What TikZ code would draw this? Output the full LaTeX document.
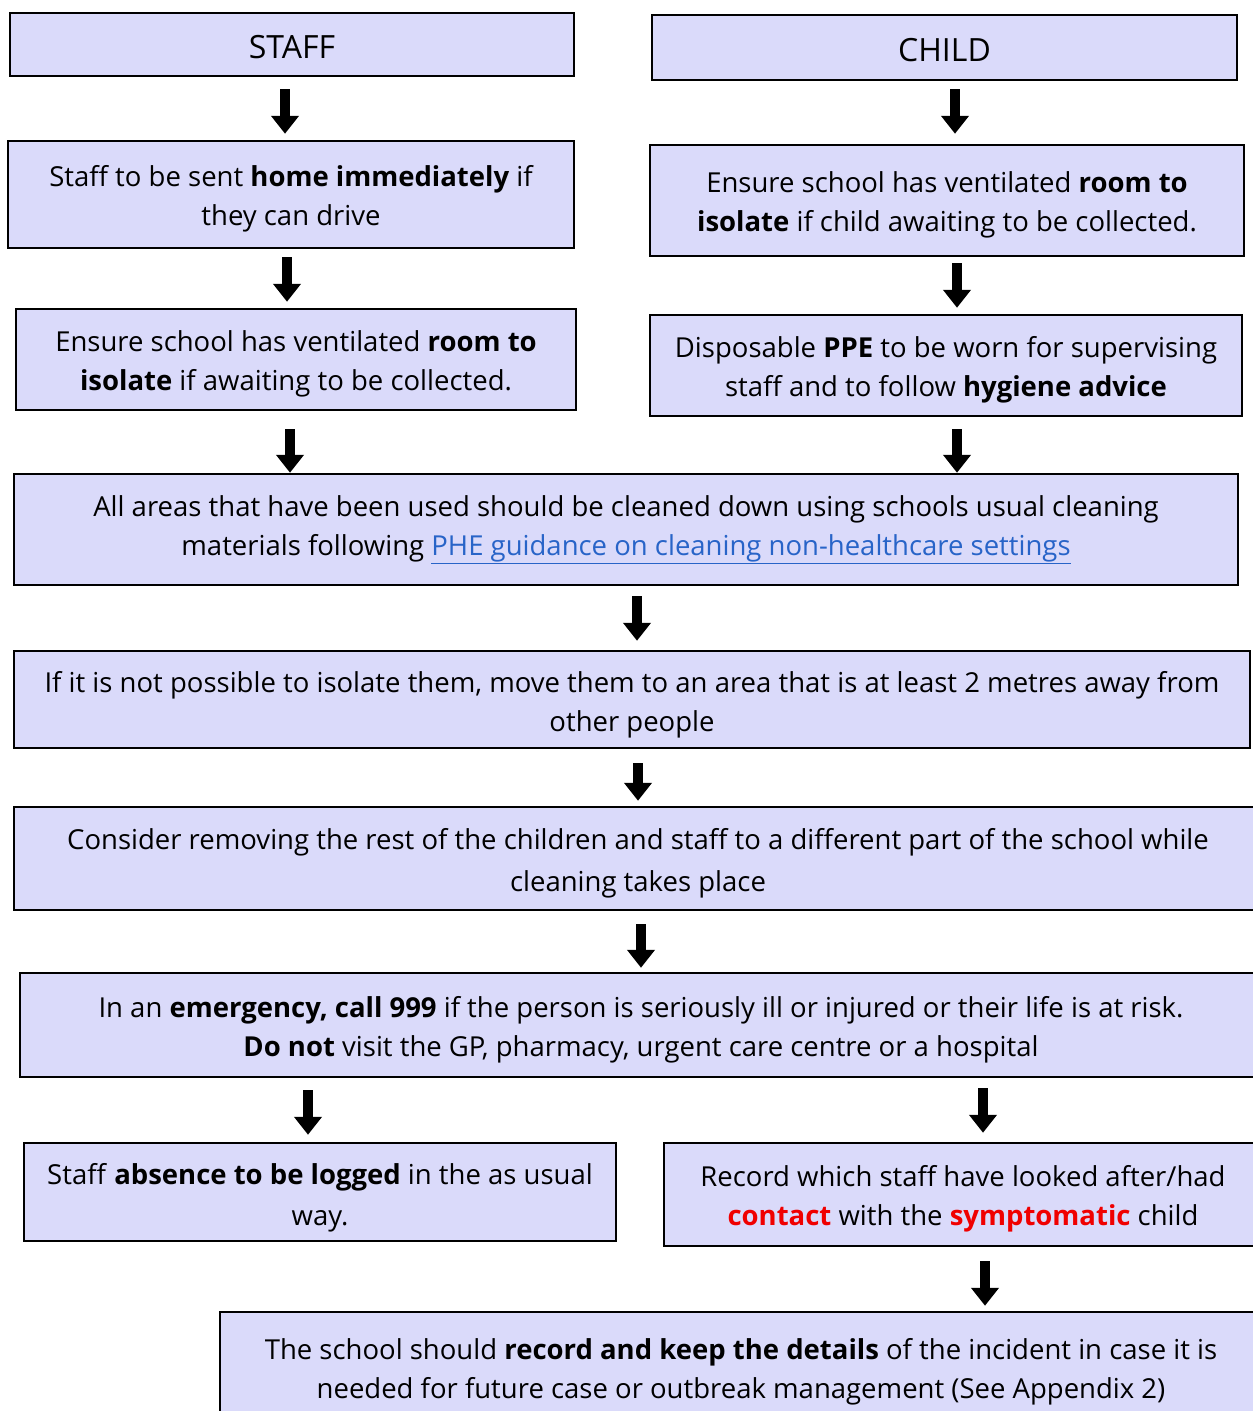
\documentclass[tikz,border=0pt]{standalone}
\usepackage{fontspec}
\setmainfont{Open Sans}
\usetikzlibrary{arrows.meta}
\definecolor{boxfill}{RGB}{218,218,250}
\definecolor{linkblue}{RGB}{40,100,200}
\definecolor{hotred}{RGB}{240,0,0}
\newcommand\lowr[1][30pt]{\rule{0pt}{#1}}
\tikzset{
  box/.style={draw=black, line width=2.5pt, fill=boxfill, inner sep=0pt, align=center,
    font=\fontsize{27.5}{39}\selectfont},
  headbox/.style={box, font=\fontsize{32}{36}\selectfont},
  bigarr/.style={draw=black, line width=10pt, -{Triangle[width=27pt,length=18pt]}}
}
\begin{document}
\begin{tikzpicture}[x=1pt,y=-1pt]
\clip (0,0) rectangle (1253,1411);
\fill[white] (0,0) rectangle (1253,1411);
% boxes
\node[headbox, minimum width=564pt, minimum height=63pt] (staff) at (292,44.5) {\lowr[29pt]STAFF};
\node[headbox, minimum width=585pt, minimum height=65pt] (child) at (944.5,47.5) {\lowr[29pt]CHILD};
\node[box, minimum width=566pt, minimum height=107pt] (home) at (291,194.5)
  {\lowr Staff to be sent \textbf{home immediately} if\\ they can drive};
\node[box, minimum width=594pt, minimum height=111pt] (cvent) at (947,200.5)
  {\lowr Ensure school has ventilated \textbf{room to}\\ \textbf{isolate} if child awaiting to be collected.};
\node[box, minimum width=560pt, minimum height=101pt] (svent) at (296,359.5)
  {\lowr Ensure school has ventilated \textbf{room to}\\ \textbf{isolate} if awaiting to be collected.};
\node[box, minimum width=592pt, minimum height=101pt] (ppe) at (946,365.5)
  {\lowr Disposable \textbf{PPE} to be worn for supervising\\ staff and to follow \textbf{hygiene advice}};
\node[box, minimum width=1224pt, minimum height=111pt] (all) at (626,529.5)
  {All areas that have been used should be cleaned down using schools usual cleaning\\
   materials following {\color{linkblue}\underline{PHE guidance on cleaning non-healthcare settings}}};
\node[box, minimum width=1236pt, minimum height=97pt] (notpos) at (632,699.5)
  {\lowr[31.5pt]If it is not possible to isolate them, move them to an area that is at least 2 metres away from\\ other people};
\node[box, minimum width=1248pt, minimum height=103pt, font=\fontsize{27.5}{42}\selectfont] (consider) at (638,858.5)
  {\lowr Consider removing the rest of the children and staff to a different part of the school while\\ cleaning takes place};
\node[box, minimum width=1242pt, minimum height=104pt] (emerg) at (641,1025)
  {\lowr[31.5pt]In an \textbf{emergency, call 999} if the person is seriously ill or injured or their life is at risk.\\
   \textbf{Do not} visit the GP, pharmacy, urgent care centre or a hospital};
\node[box, minimum width=592pt, minimum height=98pt, font=\fontsize{27.5}{41}\selectfont] (absence) at (320,1192)
  {\lowr[33.5pt]Staff \textbf{absence to be logged} in the as usual\\ way.};
\node[box, minimum width=598pt, minimum height=103pt] (record) at (963,1194.5)
  {\lowr Record which staff have looked after/had\\
   {\color{hotred}\textbf{contact}} with the {\color{hotred}\textbf{symptomatic}} child};
\node[box, minimum width=1042pt, minimum height=110pt] (school) at (741,1367)
  {\lowr The school should \textbf{record and keep the details} of the incident in case it is\\
   needed for future case or outbreak management (See Appendix 2)};
% arrow columns
\coordinate (c1) at (285,0);
\coordinate (c2) at (955,0);
\coordinate (c3) at (287,0);
\coordinate (c4) at (957,0);
\coordinate (c5) at (290,0);
\coordinate (c6) at (957,0);
\coordinate (c7) at (637,0);
\coordinate (c8) at (638,0);
\coordinate (c9) at (641,0);
\coordinate (c10) at (308,0);
\coordinate (c11) at (983,0);
\coordinate (c12) at (985,0);
% arrows
\draw[bigarr, shorten <=12pt, shorten >=6pt] (staff.south -| c1) -- (home.north -| c1);
\draw[bigarr, shorten <=8pt, shorten >=10pt] (child.south -| c2) -- (cvent.north -| c2);
\draw[bigarr, shorten <=8pt, shorten >=6pt] (home.south -| c3) -- (svent.north -| c3);
\draw[bigarr, shorten <=6pt, shorten >=6pt] (cvent.south -| c4) -- (ppe.north -| c4);
\draw[bigarr, shorten <=18pt, shorten >=0pt] (svent.south -| c5) -- (all.north -| c5);
\draw[bigarr, shorten <=12pt, shorten >=0pt] (ppe.south -| c6) -- (all.north -| c6);
\draw[bigarr, shorten <=10pt, shorten >=9pt] (all.south -| c7) -- (notpos.north -| c7);
\draw[bigarr, shorten <=14pt, shorten >=5pt] (notpos.south -| c8) -- (consider.north -| c8);
\draw[bigarr, shorten <=13pt, shorten >=4pt] (consider.south -| c9) -- (emerg.north -| c9);
\draw[bigarr, shorten <=12pt, shorten >=7pt] (emerg.south -| c10) -- (absence.north -| c10);
\draw[bigarr, shorten <=10pt, shorten >=9pt] (emerg.south -| c11) -- (record.north -| c11);
\draw[bigarr, shorten <=14pt, shorten >=5pt] (record.south -| c12) -- (school.north -| c12);
\end{tikzpicture}
\end{document}
